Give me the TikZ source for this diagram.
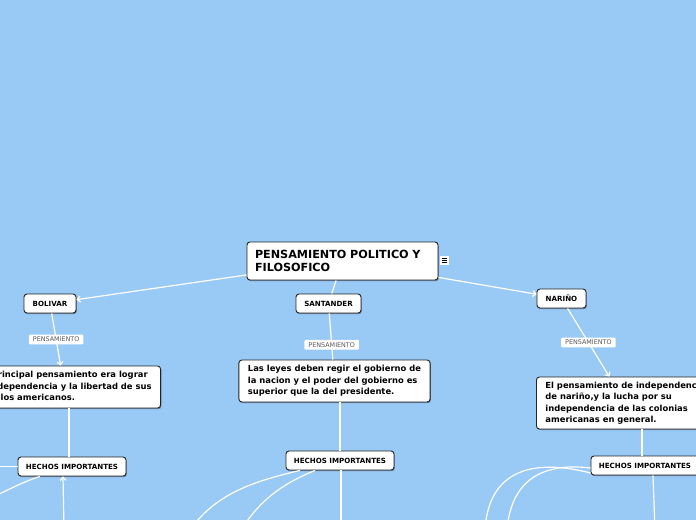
\documentclass[tikz,border=0pt]{standalone}
\usepackage{fontspec}
\setmainfont{DejaVu Sans}
\usetikzlibrary{arrows.meta,shadows}
\definecolor{mapblue}{RGB}{153,201,245}
\definecolor{boxline}{RGB}{35,35,35}
\definecolor{tagtext}{RGB}{90,90,90}

\begin{document}
\begin{tikzpicture}[x=1pt, y=-1pt,
    topic/.style={draw=boxline, fill=white, rounded corners=3pt, line width=0.9pt,
      drop shadow={shadow xshift=0.8pt, shadow yshift=-1.2pt, opacity=0.35, fill=black}},
    headbox/.style={topic, align=left, text width=175pt, inner xsep=8pt, minimum height=38pt,
      font=\fontsize{11.2}{13.5}\selectfont\bfseries},
    smallbox/.style={topic, inner sep=0pt, minimum height=19pt, font=\fontsize{7.1}{8}\selectfont\bfseries},
    bodybox/.style={topic, align=left, inner xsep=9pt, font=\fontsize{8.4}{11.5}\selectfont\bfseries},
    tag/.style={fill=white, rounded corners=1pt, inner xsep=4pt, inner ysep=2.5pt,
      text=tagtext, font=\fontsize{6.4}{7}\selectfont},
    link/.style={white, line width=1.2pt},
    tip/.style={-{Straight Barb[length=3pt, width=6pt]}}]

  % fondo y marco de la hoja
  \useasboundingbox (0,0) rectangle (696,520);
  \clip (0,0) rectangle (696,520);
  \fill[mapblue] (0,0) rectangle (696,520);

  % 1. nodo central y ramas
  \node[headbox] (main) at (342.5,261) {PENSAMIENTO POLITICO Y\\FILOSOFICO};
  \node[fill=white, minimum size=9pt, inner sep=0pt] (note) at (444.5,260.5) {};
  \foreach \dy in {-2,0,2}
    \draw[line width=0.7pt] ([xshift=-2.5pt, yshift=\dy pt]note.center) -- ++(5,0);

  \node[smallbox, minimum width=52pt] (bolivar) at (50,303.5) {BOLIVAR};
  \node[smallbox, minimum width=65pt] (santander) at (328.5,303.5) {SANTANDER};
  \node[smallbox, minimum width=49pt] (narino) at (561.5,298.5) {NARIÑO};

  \draw[link, tip] (main) -- (bolivar);
  \draw[link] (main) -- (santander);
  \draw[link, tip] (main) -- (narino);

  % 2. pensamiento de cada uno
  \node[bodybox, anchor=east, minimum height=42pt] (btext) at (161,387)
    {Su principal pensamiento era lograr\\la independencia y la libertad de sus\\pueblos americanos.};
  \node[bodybox, minimum width=191pt, minimum height=42pt] (stext) at (334.5,381)
    {Las leyes deben regir el gobierno de\\la nacion y el poder del gobierno es\\superior que la del presidente.};
  \node[bodybox, anchor=west, minimum height=52pt] (ntext) at (536,403)
    {El pensamiento de independencia\\de nariño,y la lucha por su\\independencia de las colonias\\americanas en general.};

  \draw[link, tip] (bolivar) -- node[tag, pos=0.5] {PENSAMIENTO} (btext);
  \draw[link] (santander) -- node[tag, pos=0.68] {PENSAMIENTO} (stext);
  \draw[link, tip] (narino) -- node[tag, pos=0.5] {PENSAMIENTO} (ntext);

  % 3. hechos importantes
  \node[smallbox, minimum width=108pt] (hechosB) at (72,466.5) {HECHOS IMPORTANTES};
  \node[smallbox, minimum width=108pt] (hechosS) at (340,460.5) {HECHOS IMPORTANTES};
  \node[smallbox, minimum width=108pt] (hechosN) at (645,465.5) {HECHOS IMPORTANTES};

  \draw[link] ([xshift=-3pt]hechosB.north |- btext.south) -- ([xshift=-3pt]hechosB.north);
  \draw[link] (stext.south -| hechosS.north) -- (hechosS.north);
  \draw[link] ([xshift=-3pt]hechosN.north |- ntext.south) -- ([xshift=-3pt]hechosN.north);

  % 4. ramas que salen de la hoja
  \coordinate (bout1) at (-5,466.5);
  \coordinate (bout2) at (-5,496);
  \coordinate (bout3) at (64,530);
  \draw[link] (hechosB.west) -- (bout1);
  \draw[link] ([xshift=-32pt]hechosB.south) .. controls (25,481) and (10,489) .. (bout2);
  \draw[link, tip] (bout3) -- ([xshift=-9pt]hechosB.south);

  \coordinate (sout1) at (190,530);
  \coordinate (sout2) at (241,530);
  \coordinate (sout3) at (341,530);
  \draw[link] ([xshift=-40pt]hechosS.south) .. controls (250,482) and (215,495) .. (sout1);
  \draw[link] ([xshift=-25pt]hechosS.south) .. controls (282,484) and (260,500) .. (sout2);
  \draw[link] ([xshift=1pt]hechosS.south) -- (sout3);

  \coordinate (nout1) at (485,530);
  \coordinate (nout2) at (507,530);
  \coordinate (nout3) at (655,530);
  \draw[link] ([yshift=-7.5pt]hechosN.west) .. controls (520,455) and (488,480) .. (nout1);
  \draw[link] ([yshift=-2.5pt]hechosN.west) .. controls (540,462) and (511,482) .. (nout2);
  \draw[link] ([xshift=8pt]hechosN.south) -- (nout3);
\end{tikzpicture}
\end{document}
